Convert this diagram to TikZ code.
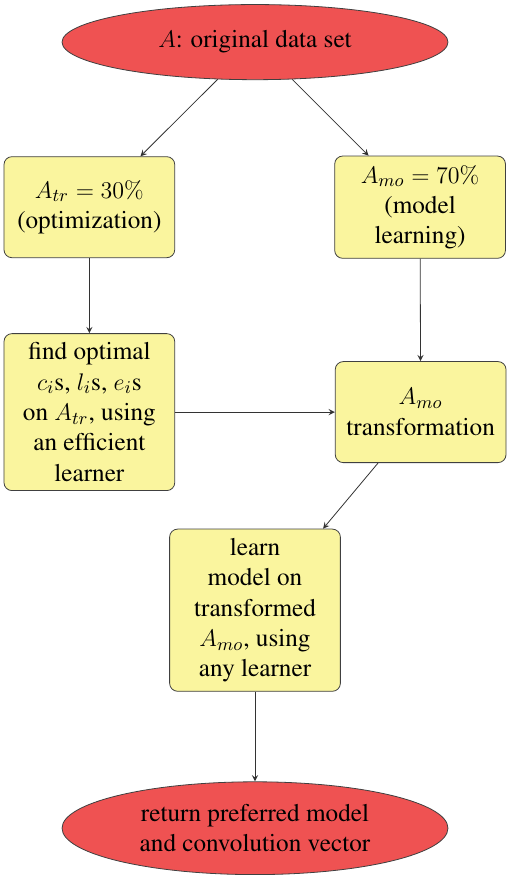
\documentclass[tikz,border=0pt]{standalone}
\usepackage[T1]{fontenc}
\usepackage{times}
\usepackage{amsmath}
\usepackage{amssymb}
\usetikzlibrary{shapes.geometric}

\definecolor{ovalred}{RGB}{239,82,82}
\definecolor{boxyellow}{RGB}{250,245,158}

\tikzset{
  terminal/.style={ellipse, draw=black!75, fill=ovalred, inner sep=1pt,
    minimum width=6.78cm, align=center},
  stepbox/.style={rectangle, rounded corners=4pt, draw=black!75, fill=boxyellow,
    minimum width=3cm, minimum height=1.775cm, inner xsep=3.5pt, inner ysep=4.5pt,
    align=center},
}

\begin{document}
\begin{tikzpicture}[>=stealth, font=\fontsize{12.6}{15.2}\selectfont]
    \useasboundingbox (0,0) rectangle (8.96,15.46);
    \node[terminal, minimum height=1.32cm] (data) at (4.48,14.72) {$A$: original data set};
    \node[stepbox] (atr) at (1.57,11.82) {$A_{tr} = 30\%$\\(optimization)};
    \node[stepbox] (amo) at (7.38,11.82) {$A_{mo} = 70\%$\\(model\\learning)};
    \node[stepbox] (find) at (1.57,8.22) {find optimal\\$c_i$s, $l_i$s, $e_i$s\\on $A_{tr}$, using\\an efficient\\learner};
    \node[stepbox] (trans) at (7.39,8.22) {$A_{mo}$\\transformation};
    \node[stepbox] (learn) at (4.48,4.74) {learn\\model on\\transformed\\$A_{mo}$, using\\any learner};
    \node[terminal, minimum height=1.63cm] (result) at (4.48,0.91) {return preferred model\\and convolution vector};
    \draw[->, black!80] (data) -- (atr);
    \draw[->, black!80] (data) -- (amo);
    \draw[->, black!80] (atr) -- (find);
    \draw[->, black!80] (amo) -- (trans);
    \draw[->, black!80] (find) -- (trans);
    \draw[->, black!80] (trans) -- (learn);
    \draw[->, black!80] (learn) -- (result);
\end{tikzpicture}
\end{document}
